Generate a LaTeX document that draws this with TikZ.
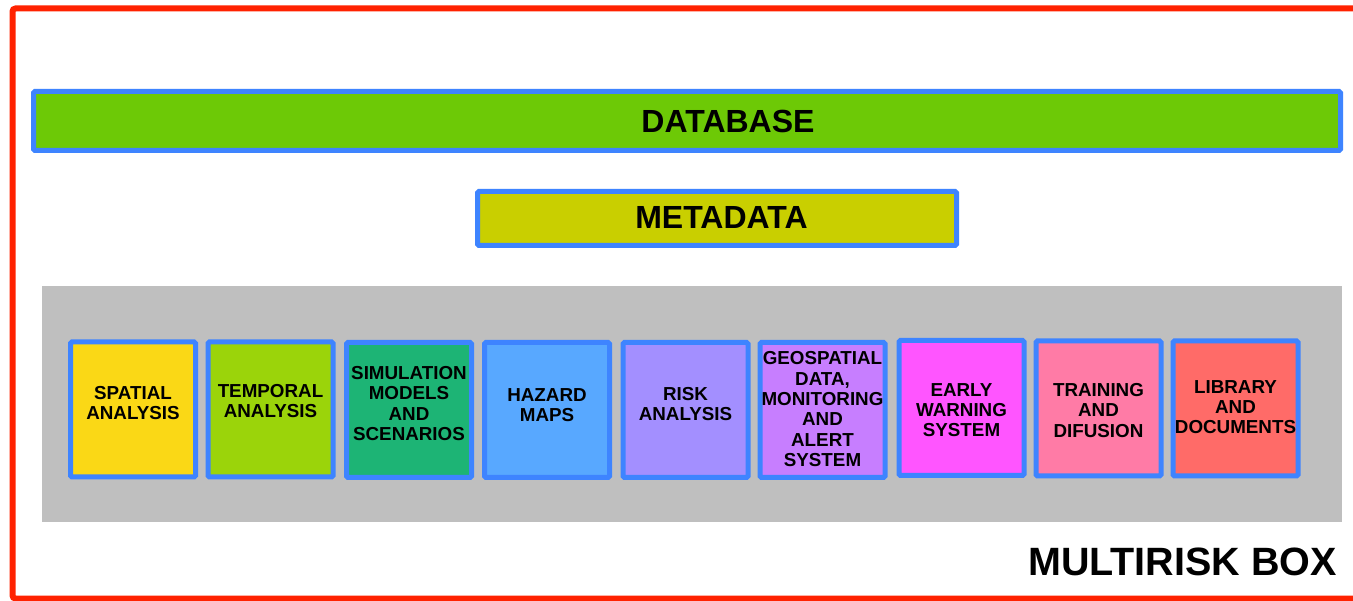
\documentclass[tikz,border=0pt]{standalone}
\usepackage{fontspec}
\setmainfont{Liberation Sans}
\definecolor{frame}{HTML}{FF2200}
\definecolor{bblue}{HTML}{3E84FF}
\definecolor{dbgreen}{HTML}{6DC906}
\definecolor{metay}{HTML}{C9CF00}
\definecolor{panel}{HTML}{BFBFBF}
\definecolor{c1}{HTML}{FAD816}
\definecolor{c2}{HTML}{9BD40A}
\definecolor{c3}{HTML}{1DB475}
\definecolor{c4}{HTML}{58A8FF}
\definecolor{c5}{HTML}{A38FFF}
\definecolor{c6}{HTML}{C77EFF}
\definecolor{c7}{HTML}{FF55FF}
\definecolor{c8}{HTML}{FF7BA6}
\definecolor{c9}{HTML}{FF6B68}
\tikzset{
  bar/.style={draw=bblue, line width=5pt, rounded corners=1.5pt, inner sep=0pt},
  bartext/.style={anchor=base, inner sep=0pt, font=\fontsize{32}{34}\selectfont\bfseries},
  modbox/.style={draw=bblue, line width=5pt, rounded corners=1.5pt, inner sep=0pt,
    minimum width=125pt, minimum height=135pt},
  modtext/.style={inner sep=0pt, text width=125pt, align=center,
    font=\fontsize{18.8}{20.4}\selectfont\bfseries},
}
\begin{document}
\begin{tikzpicture}[x=1pt,y=-1pt]
\useasboundingbox (0,0) rectangle (1353,601);
\clip (0,0) rectangle (1353,601);
\fill[white] (0,0) rectangle (1353,601);
% outer frame
\draw[frame, line width=6pt, rounded corners=3pt] (1370,8.5) -- (12.5,8.5) -- (12.5,598.5) -- (1370,598.5);
% database and metadata
\node[bar, fill=dbgreen, minimum width=1307pt, minimum height=59pt] (db) at (687,121) {};
\node[bartext] (dbt) at (728,133) {DATABASE};
\node[bar, fill=metay, minimum width=479pt, minimum height=54pt] (meta) at (717,218.5) {};
\node[bartext] (metat) at (721.5,229) {METADATA};
% panel
\fill[panel] (42,286) rectangle (1342,522);
% modules
\node[modbox, fill=c1] (m1) at (133,409.5) {};
\node[modbox, fill=c2] (m2) at (270.5,409.5) {};
\node[modbox, fill=c3] (m3) at (409,410) {};
\node[modbox, fill=c4] (m4) at (547,410) {};
\node[modbox, fill=c5] (m5) at (685.5,410) {};
\node[modbox, fill=c6] (m6) at (822.5,410) {};
\node[modbox, fill=c7] (m7) at (961.5,408) {};
\node[modbox, fill=c8] (m8) at (1098.5,408.5) {};
\node[modbox, fill=c9] (m9) at (1235.5,408.5) {};
\node[modtext] (t1) at (133,403.2) {SPATIAL\\ANALYSIS};
\node[modtext] (t2) at (270.5,401.2) {TEMPORAL\\ANALYSIS};
\node[modtext] (t3) at (409,403.7) {SIMULATION\\MODELS\\AND\\SCENARIOS};
\node[modtext] (t4) at (547,405.2) {HAZARD\\MAPS};
\node[modtext] (t5) at (685.5,404.2) {RISK\\ANALYSIS};
\node[modtext] (t6) at (822.5,409.2) {GEOSPATIAL\\DATA,\\MONITORING\\AND\\ALERT\\SYSTEM};
\node[modtext] (t7) at (961.5,410.2) {EARLY\\WARNING\\SYSTEM};
\node[modtext] (t8) at (1098.5,410.2) {TRAINING\\AND\\DIFUSION};
\node[modtext] (t9) at (1235.5,407.2) {LIBRARY\\AND\\DOCUMENTS};
% label
\node[anchor=base east, inner sep=0pt, font=\fontsize{39.5}{42}\selectfont\bfseries] (lbl) at (1337,575) {MULTIRISK BOX};
\end{tikzpicture}
\end{document}
